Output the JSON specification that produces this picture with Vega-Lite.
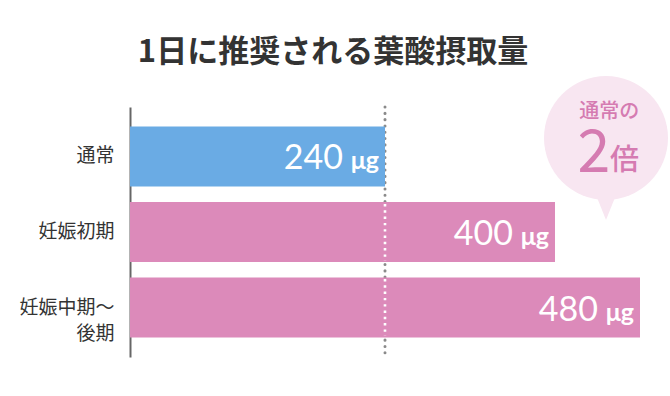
{
  "$schema": "https://vega.github.io/schema/vega-lite/v6.json",
  "autosize": "none",
  "width": 510,
  "height": 250,
  "padding": {"left": 130, "top": 107, "right": 30, "bottom": 39},
  "background": "white",
  "config": {"view": {"stroke": null}, "font": "Noto Sans CJK JP"},
  "title": {
    "text": "1日に推奨される葉酸摂取量",
    "fontSize": 31,
    "fontWeight": "bold",
    "color": "#333333",
    "font": "Noto Sans CJK JP",
    "anchor": "middle",
    "dx": -52,
    "offset": 7
  },
  "datasets": {
    "bars": [
      {"cat": "通常", "value": 240},
      {"cat": "妊娠初期", "value": 400},
      {"cat": "妊娠中期～後期", "value": 480}
    ],
    "ref": [{"ref": 240}]
  },
  "resolve": {"scale": {"y": "independent"}, "axis": {"y": "independent"}},
  "layer": [
    {
      "data": {"name": "ref"},
      "mark": {"type": "rule", "color": "#8a8a8a", "strokeWidth": 3, "strokeDash": [0.1, 6.2], "strokeCap": "round"},
      "encoding": {"x": {"field": "ref", "type": "quantitative", "scale": {"domain": [0, 480], "nice": false}, "axis": null}}
    },
    {
      "data": {"name": "bars"},
      "layer": [
        {
          "mark": {"type": "bar"},
          "encoding": {
            "y": {
              "field": "cat", "type": "nominal", "sort": null,
              "scale": {"paddingInner": 0.205, "paddingOuter": 0.258},
              "axis": {
                "title": null, "ticks": false, "domain": true, "domainColor": "#666666", "domainWidth": 2,
                "labelFontSize": 19, "labelColor": "#333333", "labelPadding": 16, "labelLineHeight": 26,
                "labelFont": "Noto Sans CJK JP",
                "labelExpr": "datum.value == '妊娠中期～後期' ? ['妊娠中期～', '後期'] : datum.label"
              }
            },
            "x": {"field": "value", "type": "quantitative", "scale": {"domain": [0, 480], "nice": false}, "axis": null},
            "color": {"field": "cat", "type": "nominal", "legend": null,
              "scale": {"domain": ["通常", "妊娠初期", "妊娠中期～後期"], "range": ["#6aabe4", "#dc8aba", "#dc8aba"]}}
          }
        },
        {
          "mark": {"type": "text", "align": "right", "baseline": "alphabetic", "dx": -42, "dy": 13, "font": "Lato", "fontSize": 34, "color": "#ffffff"},
          "encoding": {
            "y": {"field": "cat", "type": "nominal", "sort": null},
            "x": {"field": "value", "type": "quantitative"},
            "text": {"field": "value", "type": "quantitative"}
          }
        },
        {
          "mark": {"type": "text", "align": "right", "baseline": "alphabetic", "dx": -6, "dy": 13, "font": "Lato", "fontSize": 25, "fontWeight": "bold", "color": "#ffffff", "text": "μg"},
          "encoding": {
            "y": {"field": "cat", "type": "nominal", "sort": null},
            "x": {"field": "value", "type": "quantitative"}
          }
        }
      ]
    },
    {
      "data": {"values": [{"label": "通常の", "big": "2", "unit": "倍"}]},
      "layer": [
        {
          "mark": {"type": "rule", "stroke": "#ffffff", "strokeWidth": 2.6, "strokeDash": [2.4, 3.9]},
          "encoding": {
            "x": {"datum": 240, "type": "quantitative"},
            "y": {"datum": 97, "type": "quantitative", "scale": {"domain": [0, 250], "reverse": true, "nice": false}, "axis": null},
            "y2": {"datum": 154}
          }
        },
        {
          "mark": {"type": "rule", "stroke": "#ffffff", "strokeWidth": 2.6, "strokeDash": [2.4, 3.9]},
          "encoding": {
            "x": {"datum": 240, "type": "quantitative"},
            "y": {"datum": 172, "type": "quantitative"},
            "y2": {"datum": 229}
          }
        },
        {
          "mark": {"type": "point", "shape": "circle", "filled": true, "color": "#f8e6f1", "opacity": 1, "size": 15376},
          "encoding": {
            "x": {"datum": 448, "type": "quantitative"},
            "y": {"datum": 31, "type": "quantitative"}
          }
        },
        {
          "mark": {"type": "point", "shape": "M-0.8,-1L0,1L0.8,-1Z", "filled": true, "color": "#f8e6f1", "opacity": 1, "size": 484},
          "encoding": {
            "x": {"datum": 448, "type": "quantitative"},
            "y": {"datum": 102, "type": "quantitative"}
          }
        },
        {
          "mark": {"type": "text", "align": "center", "baseline": "middle", "fontSize": 20, "fontWeight": 500, "color": "#d57bb1", "font": "Noto Sans CJK JP"},
          "encoding": {
            "x": {"datum": 451, "type": "quantitative"},
            "y": {"datum": 4.5, "type": "quantitative"},
            "text": {"field": "label"}
          }
        },
        {
          "mark": {"type": "text", "align": "center", "baseline": "alphabetic", "fontSize": 59, "fontWeight": 400, "color": "#d57bb1", "font": "Noto Sans CJK JP"},
          "encoding": {
            "x": {"datum": 436.7, "type": "quantitative"},
            "y": {"datum": 65, "type": "quantitative"},
            "text": {"field": "big"}
          }
        },
        {
          "mark": {"type": "text", "align": "center", "baseline": "middle", "fontSize": 29, "fontWeight": 500, "color": "#d57bb1", "font": "Noto Sans CJK JP"},
          "encoding": {
            "x": {"datum": 465.4, "type": "quantitative"},
            "y": {"datum": 54, "type": "quantitative"},
            "text": {"field": "unit"}
          }
        }
      ]
    }
  ]
}
